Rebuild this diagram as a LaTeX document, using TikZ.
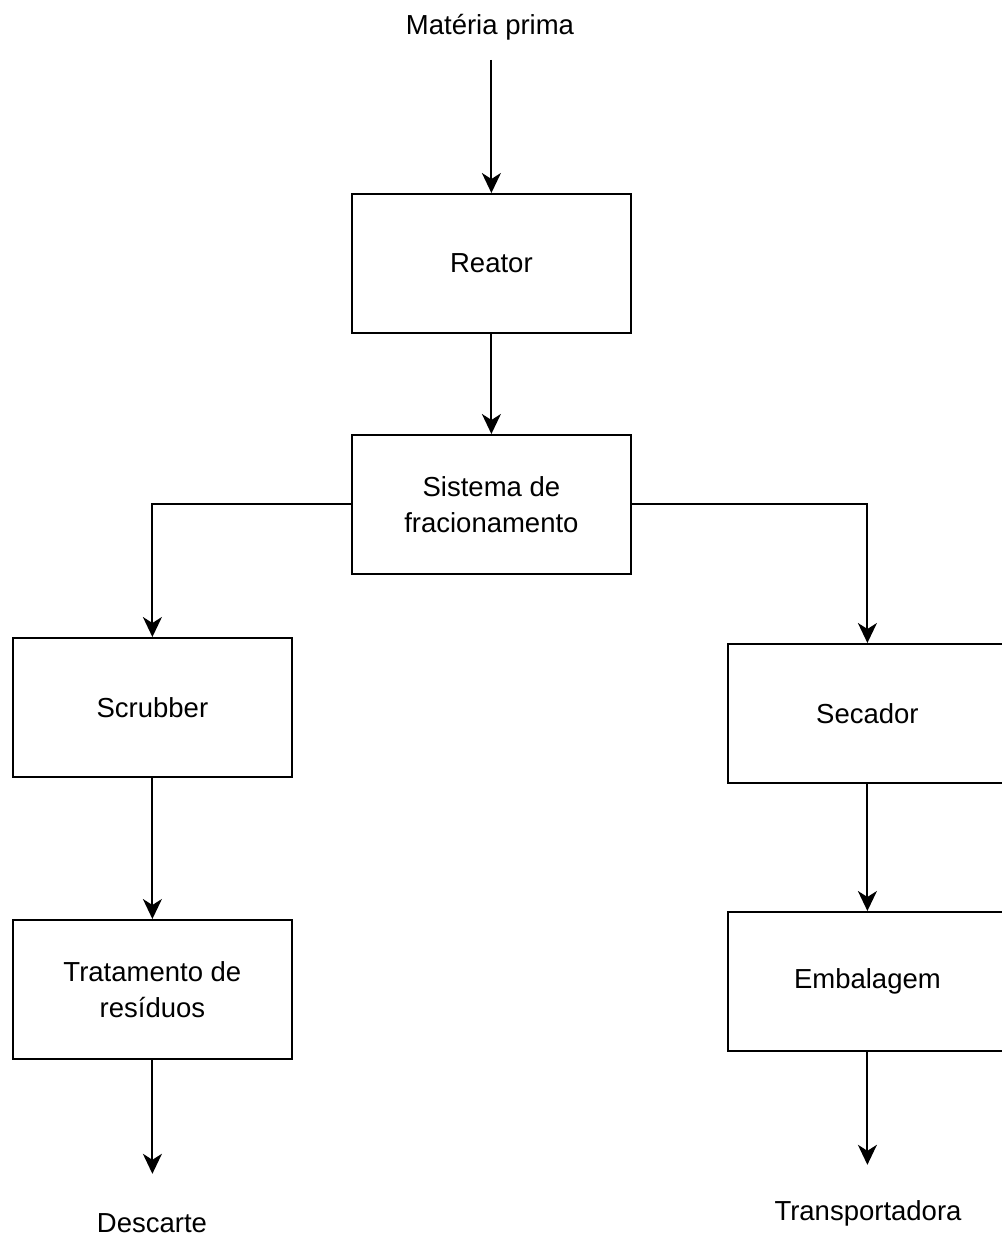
\documentclass[tikz,border=0pt]{standalone}
\usepackage{fontspec}
\setmainfont{Liberation Sans}
\usetikzlibrary{arrows.meta}
\begin{document}
\begin{tikzpicture}[x=1pt,y=-1pt,
  box/.style={draw, line width=1.8pt, minimum width=279pt, minimum height=139pt, inner sep=0pt, align=center, font=\fontsize{27.5}{36}\selectfont, anchor=north west},
  lbl/.style={inner sep=0pt, font=\fontsize{27.5}{36}\selectfont},
  flow/.style={line width=2pt, -{Stealth[length=20pt,width=19pt,inset=6pt]}}]
\useasboundingbox (0,0) rectangle (1001,1236);
\node[lbl] (mp) at (490,27) {Matéria prima};
\node[box] (reator) at (351,193) {Reator};
\node[box] (sist) at (351,434) {Sistema de\\fracionamento};
\node[box] (scr) at (12,637) {Scrubber};
\node[box] (trat) at (12,919) {Tratamento de\\resíduos};
\node[box] (sec) at (727,643) {Secador};
\node[box] (emb) at (727,911) {Embalagem};
\node[lbl] (desc) at (152,1223) {Descarte};
\node[lbl] (transp) at (868,1213) {Transportadora};
\coordinate (mpe) at ([yshift=133pt]reator.north);
\coordinate (de) at ([yshift=-114pt]trat.south);
\coordinate (te) at ([yshift=-113pt]emb.south);
\draw[flow] (mpe) -- (reator.north);
\draw[flow] (reator.south) -- (sist.north);
\draw[flow] (sist.west) -| (scr.north);
\draw[flow] (sist.east) -| (sec.north);
\draw[flow] (scr.south) -- (trat.north);
\draw[flow] (trat.south) -- (de);
\draw[flow] (sec.south) -- (emb.north);
\draw[flow] (emb.south) -- (te);
\end{tikzpicture}
\end{document}
